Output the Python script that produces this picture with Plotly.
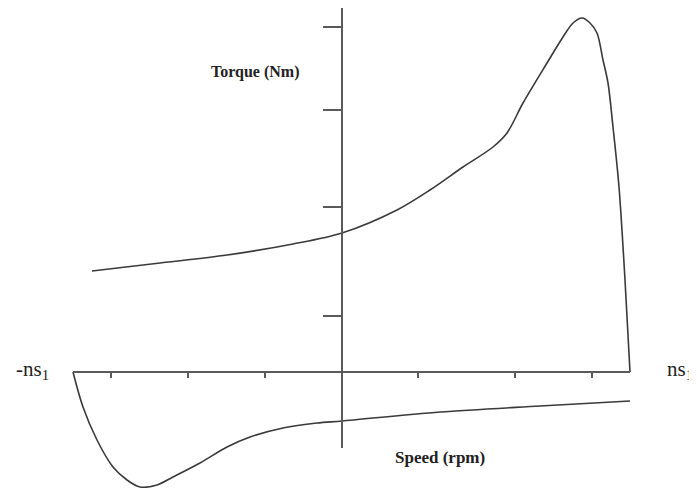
import plotly.graph_objects as go

# Speed (arbitrary units, 0 = standstill) and torque (arbitrary units, 0 = speed axis)
# Motoring-direction torque-speed curve
motor_speed = [-250, -182, -115, -49, 0, 55, 88, 121, 151, 165, 181, 205, 221, 231,
               240, 248, 255, 261, 266, 271, 277, 283, 288]
motor_torque = [101, 109, 117, 128, 139, 162, 182, 205, 225, 239, 269, 309, 335, 349,
                354, 349, 339, 312, 289, 245, 185, 92, 0]

# Generating-direction torque-speed curve
gen_speed = [-269, -259, -245, -229, -215, -202, -185, -169, -142, -115, -92, -59,
             -25, 0, 98, 198, 288]
gen_torque = [0, -35, -68, -95, -108, -115, -113, -105, -91, -75, -65, -56,
              -51, -49, -40, -34, -29]

# Axis extents and tick positions (same units)
x_axis_ends = [-269, 288]
y_axis_ends = [-76, 364]
x_ticks = [-231, -154, -77, 76, 173, 250]
y_ticks = [56, 165, 262, 345]

line_col = "#3a3a3a"
axis_col = "#5a5a5a"

fig = go.Figure()

# curves
fig.add_trace(go.Scatter(x=motor_speed, y=motor_torque, mode="lines",
                         line=dict(color=line_col, width=1.6, shape="spline", smoothing=0.9),
                         hoverinfo="skip", showlegend=False))
fig.add_trace(go.Scatter(x=gen_speed, y=gen_torque, mode="lines",
                         line=dict(color=line_col, width=1.6, shape="spline", smoothing=0.9),
                         hoverinfo="skip", showlegend=False))

# axes
fig.add_trace(go.Scatter(x=x_axis_ends, y=[0, 0], mode="lines",
                         line=dict(color=axis_col, width=2), hoverinfo="skip", showlegend=False))
fig.add_trace(go.Scatter(x=[0, 0], y=y_axis_ends, mode="lines",
                         line=dict(color=axis_col, width=2), hoverinfo="skip", showlegend=False))

# tick marks
tx, ty = [], []
for v in x_ticks:
    tx += [v, v, None]
    ty += [0, -6, None]
for v in y_ticks:
    tx += [-19, 0, None]
    ty += [v, v, None]
fig.add_trace(go.Scatter(x=tx, y=ty, mode="lines",
                         line=dict(color=axis_col, width=2), hoverinfo="skip", showlegend=False))

serif = "Liberation Serif, Times New Roman, serif"
fig.add_annotation(x=-87, y=300, xref="x", yref="y", text="<b>Torque (Nm)</b>",
                   showarrow=False, font=dict(family=serif, size=16, color="#222"))
fig.add_annotation(x=98, y=-85, xref="x", yref="y", text="<b>Speed (rpm)</b>",
                   showarrow=False, font=dict(family=serif, size=17, color="#222"))
fig.add_annotation(x=-310, y=2, xref="x", yref="y", text="-ns<sub>1</sub>",
                   showarrow=False, font=dict(family=serif, size=21, color="#222"))
fig.add_annotation(x=338, y=2, xref="x", yref="y", text="ns<sub>1</sub>",
                   showarrow=False, font=dict(family=serif, size=21, color="#222"))

# page body has an 8px margin, so the figure is drawn from (8, 8)
fig.update_layout(
    width=689, height=480,
    margin=dict(l=0, r=0, t=0, b=0),
    paper_bgcolor="white", plot_bgcolor="white",
    xaxis=dict(range=[-334, 355], visible=False, fixedrange=True),
    yaxis=dict(range=[-116, 364], visible=False, fixedrange=True),
)

fig.write_html("out.html")
